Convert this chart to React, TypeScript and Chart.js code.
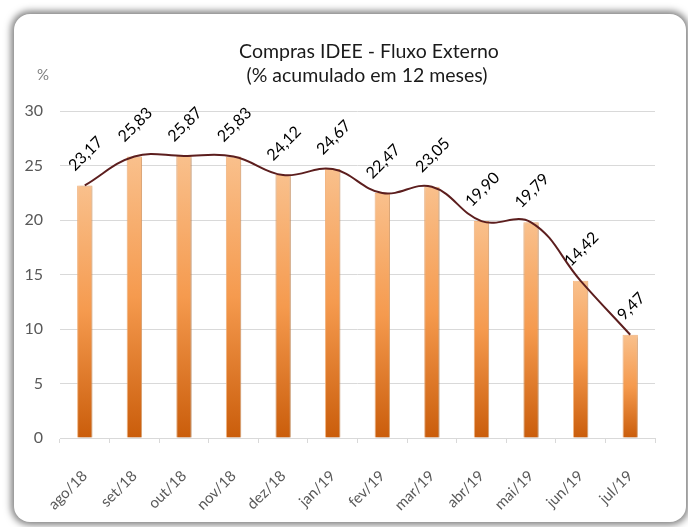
import React, { useEffect, useRef } from "react";
import { Chart, registerables } from "chart.js";

Chart.register(...registerables);

const categories = ["ago/18", "set/18", "out/18", "nov/18", "dez/18", "jan/19", "fev/19", "mar/19", "abr/19", "mai/19", "jun/19", "jul/19"];
const values = [23.17, 25.83, 25.87, 25.83, 24.12, 24.67, 22.47, 23.05, 19.9, 19.79, 14.42, 9.47];
const titleLines = ["Compras IDEE - Fluxo Externo", "(% acumulado em 12 meses)"];
const yUnit = "%";

const FONT = "Lato, 'Open Sans', sans-serif";

const fmt = (v: number) => v.toFixed(2).replace(".", ",");

const textPlugin = {
  id: "texts",
  afterDraw(chart: any) {
    const ctx = chart.ctx;
    ctx.save();
    ctx.fillStyle = "#1a1a1a";
    ctx.font = `19.5px ${FONT}`;
    ctx.textAlign = "center";
    ctx.textBaseline = "middle";
    ctx.fillText(titleLines[0], 369, 52);
    ctx.fillText(titleLines[1], 367, 76);
    ctx.fillStyle = "#7f7f7f";
    ctx.font = `15px ${FONT}`;
    ctx.fillText(yUnit, 43, 75);
    const meta = chart.getDatasetMeta(1);
    ctx.fillStyle = "#000000";
    ctx.font = `16px ${FONT}`;
    meta.data.forEach((pt: any, i: number) => {
      const txt = fmt(values[i]);
      const m = ctx.measureText(txt);
      const h = 12;
      const bboxH = (m.width + h) / Math.SQRT2;
      ctx.save();
      ctx.translate(pt.x + 1, pt.y - 13 - bboxH / 2);
      ctx.rotate(-Math.PI / 4);
      ctx.textAlign = "center";
      ctx.textBaseline = "middle";
      ctx.fillText(txt, 0, 0);
      ctx.restore();
    });
    ctx.restore();
  },
};

const barShadow = {
  id: "barShadow",
  beforeDatasetDraw(chart: any, args: any) {
    if (args.index === 0) {
      chart.ctx.save();
      chart.ctx.shadowColor = "rgba(0,0,0,0.25)";
      chart.ctx.shadowBlur = 3;
      chart.ctx.shadowOffsetX = 1;
      chart.ctx.shadowOffsetY = 1;
    }
  },
  afterDatasetDraw(chart: any, args: any) {
    if (args.index === 0) chart.ctx.restore();
  },
};

export default function App() {
  const ref = useRef<HTMLCanvasElement>(null);
  useEffect(() => {
    const canvas = ref.current!;
    const chart = new Chart(canvas, {
      type: "bar",
      data: {
        labels: categories,
        datasets: [
          {
            type: "bar",
            data: values,
            order: 2,
            barPercentage: 0.62,
            categoryPercentage: 0.5,
            borderWidth: 1,
            borderColor: "rgba(250,180,120,0.9)",
            backgroundColor: (c: any) => {
              const ch = c.chart;
              if (!ch.chartArea || c.raw == null) return "#f79646";
              const y0 = ch.scales.y.getPixelForValue(0);
              const y1 = ch.scales.y.getPixelForValue(c.raw);
              const g = ch.ctx.createLinearGradient(0, y1, 0, y0);
              g.addColorStop(0, "#f9c08c");
              g.addColorStop(0.5, "#f59a4e");
              g.addColorStop(1, "#ca5d0b");
              return g;
            },
          } as any,
          {
            type: "line",
            data: values,
            order: 1,
            borderColor: "#5c1e1e",
            borderWidth: 2,
            pointRadius: 0,
            tension: 0.4,
            fill: false,
          } as any,
        ],
      },
      options: {
        responsive: false,
        animation: false,
        devicePixelRatio: 1,
        layout: { padding: { left: 20, right: 33, top: 111, bottom: 0 } },
        plugins: { legend: { display: false }, title: { display: false }, tooltip: { enabled: false } },
        scales: {
          x: {
            afterFit: (s: any) => { s.height = 89; },
            grid: { display: true, drawOnChartArea: false, drawTicks: true, tickLength: 5, color: "#d9d9d9" },
            border: { color: "#d9d9d9" },
            ticks: { minRotation: 45, maxRotation: 45, color: "#595959", font: { family: FONT, size: 15 }, padding: 24 },
          },
          y: {
            min: 0,
            max: 30,
            afterFit: (s: any) => { s.width = 40; },
            ticks: { stepSize: 5, color: "#595959", font: { family: FONT, size: 16 }, padding: 17 },
            grid: { color: "#d9d9d9", drawTicks: false },
            border: { display: false },
          },
        },
      },
      plugins: [textPlugin, barShadow],
    });
    return () => chart.destroy();
  }, []);
  return (
    <div style={{ position: "absolute", left: 0, top: 0, width: 688, height: 527, overflow: "hidden", background: "#fff" }}>
      <div
        style={{
          position: "absolute",
          left: 14,
          top: 14,
          width: 672,
          height: 508,
          borderRadius: 16,
          background: "#fff",
          boxShadow: "0 0 7px 3px rgba(0,0,0,0.5)",
        }}
      />
      <canvas ref={ref} width={688} height={527} style={{ position: "absolute", left: 0, top: 0 }} />
    </div>
  );
}
